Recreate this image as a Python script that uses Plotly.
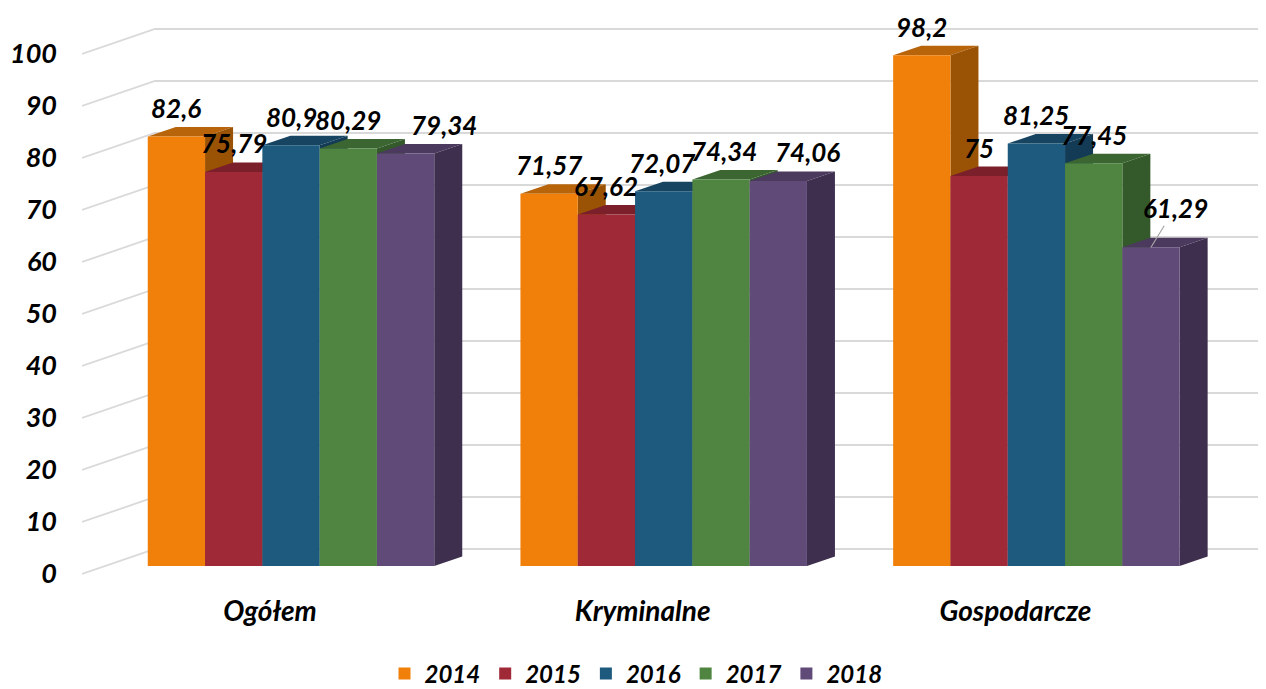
import plotly.graph_objects as go

# ---------------- data ----------------
categories = ["Ogółem", "Kryminalne", "Gospodarcze"]
years = ["2014", "2015", "2016", "2017", "2018"]
v2014 = [82.6, 71.57, 98.2]
v2015 = [75.79, 67.62, 75]
v2016 = [80.9, 72.07, 81.25]
v2017 = [80.29, 74.34, 77.45]
v2018 = [79.34, 74.06, 61.29]
y_ticks = [0, 10, 20, 30, 40, 50, 60, 70, 80, 90, 100]

series = [v2014, v2015, v2016, v2017, v2018]

# ---------------- styles ----------------
front_colors = ["#F0800A", "#9F2937", "#1D5A7D", "#4F8541", "#604A78"]
top_colors = ["#B8640A", "#7B1F2A", "#174461", "#3C6631", "#4B395E"]
side_colors = ["#9A5205", "#6E1C25", "#133B55", "#345A2B", "#3F2F4E"]
FONT = "Lato"

OFF = 8                       # page body margin offset
W, H = 1266 - OFF, 689 - OFF
ML, MR, MT = 82 - OFF, 0, 20 - OFF
PLOT_BOTTOM = 592 - OFF
MB = H - PLOT_BOTTOM
PW, PH = W - ML - MR, H - MT - MB
PX_X = 372.7           # px per category unit
PX_Y = 5.2             # px per value unit
xmin = -209 / PX_X
xmax = xmin + PW / PX_X
ymax = 546 / PX_Y
ymin = ymax - PH / PX_Y

BARGAP = 0.2313
w = (1 - BARGAP) / len(series)
DX = 28 / PX_X          # bar depth offsets
DY = 9.5 / PX_Y

# label nudges in px (category index, series index) -> (dx, dy)
label_nudge = {(0, 4): (38, 0), (1, 4): (29, 0), (1, 3): (3, 0), (1, 2): (-2, 0)}
leader = {(2, 4): (24, -39)}

fig = go.Figure()
for j, (yr, vals) in enumerate(zip(years, series)):
    fig.add_trace(go.Bar(
        x=list(range(len(categories))), y=vals, name=yr,
        marker=dict(color=front_colors[j], line=dict(width=0)),
        hoverinfo="skip",
    ))

shapes = []
# slanted gridlines (wall)
for v in y_ticks:
    yf = v - 8 / PX_Y
    yb = v + 17 / PX_Y
    xb = xmin + 73 / PX_X
    shapes.append(dict(type="path", xref="x", yref="y", layer="below",
                       path=f"M {xmin},{yf} L {xb},{yb} L {xmax},{yb}",
                       line=dict(color="#D9D9D9", width=1.8)))

# 3D top and side faces
for i in range(len(categories)):
    for j, vals in enumerate(series):
        v = vals[i]
        xc = i + (j - 2) * w
        xl, xr = xc - w / 2, xc + w / 2
        shapes.append(dict(type="path", xref="x", yref="y", layer="between",
                           path=f"M {xl},{v} L {xr},{v} L {xr+DX},{v+DY} L {xl+DX},{v+DY} Z",
                           fillcolor=top_colors[j], line=dict(width=0)))
        shapes.append(dict(type="path", xref="x", yref="y", layer="between",
                           path=f"M {xr},0 L {xr},{v} L {xr+DX},{v+DY} L {xr+DX},{DY} Z",
                           fillcolor=side_colors[j], line=dict(width=0)))

annotations = []
lab_font = dict(family=FONT, size=26, color="black", weight="bold", style="italic")
for i in range(len(categories)):
    for j, vals in enumerate(series):
        v = vals[i]
        xc = i + (j - 2) * w
        txt = f"{v:g}".replace(".", ",")
        if (i, j) in leader:
            ax, ay = leader[(i, j)]
            annotations.append(dict(x=xc, y=v, xref="x", yref="y", text=txt,
                                    showarrow=True, ax=ax, ay=ay, arrowhead=0,
                                    arrowwidth=1.2, arrowcolor="#A6A6A6", standoff=0,
                                    font=lab_font))
        else:
            dx, dy = label_nudge.get((i, j), (0, 0))
            annotations.append(dict(x=xc, y=v, xref="x", yref="y", text=txt,
                                    showarrow=False, xanchor="center", yanchor="middle",
                                    xshift=dx, yshift=28.5 + dy, font=lab_font))

fig.update_layout(
    width=W, height=H,
    margin=dict(l=ML, r=MR, t=MT, b=MB, pad=0),
    paper_bgcolor="white", plot_bgcolor="white",
    barmode="group", bargap=BARGAP, bargroupgap=0,
    shapes=shapes, annotations=annotations,
    xaxis=dict(range=[xmin, xmax], showgrid=False, zeroline=False, showline=False,
               ticks="", tickmode="array",
               tickvals=[i - 21 / PX_X for i in range(len(categories))],
               ticktext=categories,
               tickfont=dict(family=FONT, size=28, color="black", weight="bold", style="italic")),
    yaxis=dict(range=[ymin, ymax], showgrid=False, zeroline=False, showline=False,
               ticks="", tickmode="array", tickvals=y_ticks,
               ticktext=[str(t) for t in y_ticks],
               ticklabelshift=8, ticklabelstandoff=24,
               tickfont=dict(family=FONT, size=27, color="black", weight="bold", style="italic")),
    legend=dict(orientation="h", xref="container", yref="container",
                x=(636 - OFF) / W, xanchor="center", y=15 / H, yanchor="middle",
                font=dict(family=FONT, size=24, color="black", weight="bold", style="italic"),
                itemwidth=30, traceorder="normal"),
    showlegend=True,
)

fig.write_html("out.html")
